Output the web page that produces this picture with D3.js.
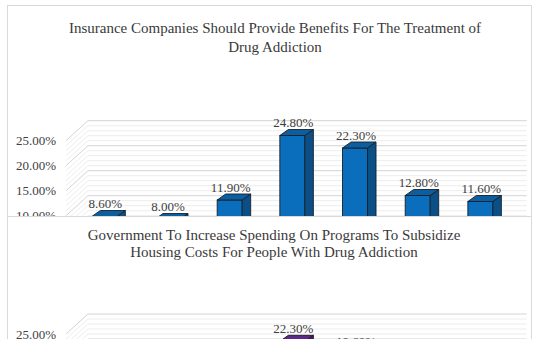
<!DOCTYPE html>
<html>
<head>
<meta charset="utf-8">
<script src="https://cdn.jsdelivr.net/npm/d3@7/dist/d3.min.js"></script>
<style>
  html, body { margin: 0; padding: 0; background: #fff; }
  svg { display: block; }
  text { font-family: "Liberation Serif", "Times New Roman", serif; }
</style>
</head>
<body>
<svg id="chart" width="540" height="339"></svg>
<script>
// Seven-point agreement scale shared by both survey charts
const categories = [
  "Strongly Disagree", "Disagree", "Somewhat Disagree",
  "Neutral", "Somewhat Agree", "Agree", "Strongly Agree"
];

// Share of respondents per answer
const insuranceValues = [0.086, 0.080, 0.119, 0.248, 0.223, 0.128, 0.116];
const housingValues   = [0.091, 0.084, 0.126, 0.223, 0.196, 0.132, 0.110];

// Value-axis labels
const yTickValues = [0, 0.05, 0.10, 0.15, 0.20, 0.25];

const insuranceTitle = [
  "Insurance Companies Should Provide Benefits  For The Treatment of",
  "Drug Addiction"
];
const housingTitle = [
  "Government To Increase Spending On Programs To Subsidize",
  "Housing Costs For People With Drug Addiction"
];

const svg = d3.select("#chart");
const fmt = d3.format(".2%");

// Pseudo-3D column chart: a front plane carrying the value axis,
// a receding floor/side wall and boxed columns set into the depth.
function drawChart(cfg) {
  const g = svg.append("g");

  // panel frame
  g.append("rect")
    .attr("x", 7.5).attr("y", cfg.panelTop + 0.5)
    .attr("width", 524).attr("height", 400)
    .attr("fill", "#fff").attr("stroke", "#d9d9d9").attr("stroke-width", 1);

  // title
  g.append("g").selectAll("text").data(cfg.title).join("text")
    .attr("x", cfg.titleX)
    .attr("y", (d, i) => cfg.titleY + i * cfg.titleGap)
    .attr("text-anchor", "middle")
    .attr("font-size", 15)
    .attr("fill", "#3a3a3a")
    .text(d => d);

  const depth = { dx: 22, dy: -20 };      // full depth of floor / wall
  const barIn = { dx: 7, dy: -6.2 };      // column front offset inside depth
  const barD  = { dx: 8.5, dy: -6 };      // column thickness
  const barW = 25;

  const x = d3.scaleBand().domain(categories).range([66, 504.7]);
  const y = d3.scaleLinear().domain([0, 0.25])
    .range([cfg.y25 + 0.25 * cfg.k * 100, cfg.y25]);

  // gridlines: minor every 1 %, major every 5 %
  const grid = d3.range(0, 26).map(i => i / 100);
  g.append("g").selectAll("path").data(grid).join("path")
    .attr("d", v => {
      const yy = y(v);
      return `M66,${yy}L${66 + depth.dx},${yy + depth.dy}L${504.7 + depth.dx},${yy + depth.dy}`;
    })
    .attr("fill", "none")
    .attr("stroke", v => Math.round(v * 100) % 5 === 0 ? "#d4d4d4" : "#ededed")
    .attr("stroke-width", 1);

  // value axis labels
  const axis = d3.axisLeft(y).tickValues(yTickValues).tickFormat(fmt)
    .tickSize(0).tickPadding(0);
  const ax = g.append("g").attr("transform", "translate(56,0)").call(axis);
  ax.select(".domain").remove();
  ax.selectAll("text")
    .attr("font-family", "Liberation Serif, Times New Roman, serif")
    .attr("font-size", 13).attr("fill", "#404040");

  // columns
  const bars = g.append("g").selectAll("g").data(cfg.values).join("g");
  bars.each(function (v, i) {
    const b = d3.select(this);
    const xf = x(categories[i]) + (x.bandwidth() - barW) / 2 + barIn.dx;
    const yt = y(v) + barIn.dy;
    const yb = y(0) + barIn.dy;
    b.append("rect")
      .attr("x", xf).attr("y", yt).attr("width", barW).attr("height", yb - yt)
      .attr("fill", cfg.colors.front).attr("stroke", cfg.colors.edge).attr("stroke-width", 0.9);
    b.append("path")
      .attr("d", `M${xf + barW},${yt}L${xf + barW + barD.dx},${yt + barD.dy}L${xf + barW + barD.dx},${yb + barD.dy}L${xf + barW},${yb}Z`)
      .attr("fill", cfg.colors.side).attr("stroke", cfg.colors.edge).attr("stroke-width", 0.9);
    b.append("path")
      .attr("d", `M${xf},${yt}L${xf + barD.dx},${yt + barD.dy}L${xf + barW + barD.dx},${yt + barD.dy}L${xf + barW},${yt}Z`)
      .attr("fill", cfg.colors.top).attr("stroke", cfg.colors.edge).attr("stroke-width", 0.9);
    b.append("text")
      .attr("x", xf + barW / 2 + 1)
      .attr("y", yt + barD.dy - 2.5)
      .attr("text-anchor", "middle")
      .attr("font-size", 13).attr("fill", "#404040")
      .text(fmt(v));
  });
}

drawChart({
  panelTop: 5,
  title: insuranceTitle,
  titleX: 275, titleY: 33, titleGap: 19,
  values: insuranceValues,
  y25: 140.7, k: 5,
  colors: { front: "#0a6ebd", side: "#0b4f86", top: "#0d5e9f", edge: "#15202b" }
});

drawChart({
  panelTop: 216,
  title: housingTitle,
  titleX: 274, titleY: 239.5, titleGap: 17.5,
  values: housingValues,
  y25: 334, k: 5,
  colors: { front: "#7030a0", side: "#4b1f6e", top: "#5e2889", edge: "#1e1426" }
});
</script>
</body>
</html>
